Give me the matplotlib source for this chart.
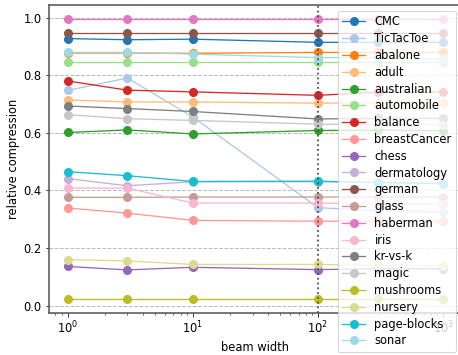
import matplotlib
matplotlib.use("Agg")
import matplotlib.pyplot as plt

beam_width = [1, 3, 10, 100, 300, 1000]

names = ["CMC", "TicTacToe", "abalone", "adult", "australian", "automobile",
         "balance", "breastCancer", "chess", "dermatology", "german", "glass",
         "haberman", "iris", "kr-vs-k", "magic", "mushrooms", "nursery",
         "page-blocks", "sonar"]

CMC = [0.927, 0.923, 0.925, 0.914, 0.914, 0.914]
TicTacToe = [0.747, 0.790, 0.655, 0.340, 0.330, 0.325]
abalone = [0.877, 0.877, 0.876, 0.879, 0.879, 0.879]
adult = [0.714, 0.707, 0.707, 0.703, 0.704, 0.704]
australian = [0.601, 0.610, 0.596, 0.608, 0.609, 0.607]
automobile = [0.844, 0.844, 0.844, 0.844, 0.844, 0.844]
balance = [0.780, 0.748, 0.742, 0.730, 0.741, 0.741]
breastCancer = [0.339, 0.321, 0.296, 0.293, 0.293, 0.293]
chess = [0.136, 0.124, 0.133, 0.125, 0.128, 0.128]
dermatology = [0.441, 0.416, 0.430, 0.430, 0.428, 0.425]
german = [0.948, 0.948, 0.948, 0.948, 0.948, 0.948]
glass = [0.376, 0.376, 0.377, 0.377, 0.377, 0.377]
haberman = [0.995, 0.995, 0.995, 0.995, 0.995, 0.995]
iris = [0.408, 0.408, 0.356, 0.356, 0.353, 0.353]
krvsk = [0.693, 0.684, 0.674, 0.648, 0.650, 0.650]
magic = [0.663, 0.649, 0.643, 0.630, 0.628, 0.628]
mushrooms = [0.023, 0.023, 0.023, 0.023, 0.023, 0.023]
nursery = [0.160, 0.155, 0.143, 0.143, 0.140, 0.138]
page_blocks = [0.465, 0.451, 0.431, 0.432, 0.427, 0.423]
sonar = [0.879, 0.879, 0.873, 0.861, 0.860, 0.855]

series = [CMC, TicTacToe, abalone, adult, australian, automobile, balance,
          breastCancer, chess, dermatology, german, glass, haberman, iris,
          krvsk, magic, mushrooms, nursery, page_blocks, sonar]

plt.rcParams['font.family'] = ['DejaVu Sans']
plt.rcParams['font.size'] = 11.5

W, H = 458, 355
fig = plt.figure(figsize=(W / 72, H / 72), dpi=72)
ax = fig.add_axes([48.8 / W, 42 / H, (462 - 48.8) / W, (350 - 42) / H])

cmap = plt.get_cmap("tab20")
for i, (name, vals) in enumerate(zip(names, series)):
    ax.plot(beam_width, vals, marker='o', markersize=8, lw=1.3,
            color=cmap(i), label=name)

ax.set_xscale('log')
ax.axvline(100, color='0.3', ls=':', lw=1.8, zorder=5)
ax.yaxis.grid(True, ls='--', color='#bbbbbb', lw=1)
ax.set_axisbelow(True)
ax.set_yticks([0.0, 0.2, 0.4, 0.6, 0.8, 1.0])
ax.set_xlabel("beam width")
ax.set_ylabel("relative compression")

for s in ax.spines.values():
    s.set_color('0.35')
    s.set_linewidth(1.6)

ax.legend(loc='upper right', fontsize=11.5, labelspacing=0.33,
          borderaxespad=0.5, handlelength=2.0)

fig.savefig("out.png", dpi=72)
